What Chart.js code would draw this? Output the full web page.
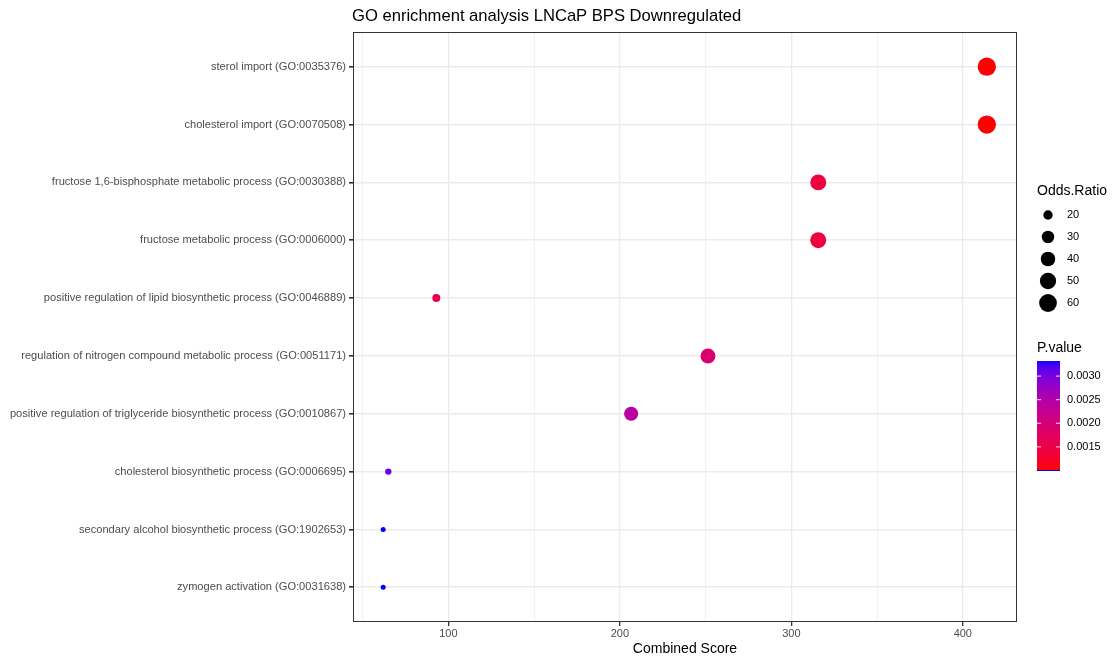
<!DOCTYPE html>
<html>
<head>
<meta charset="utf-8">
<script src="https://cdn.jsdelivr.net/npm/chart.js@4.4.1/dist/chart.umd.min.js"></script>
<style>
  body { margin: 0; background: #fff; }
  canvas { display: block; }
</style>
</head>
<body>
<canvas id="myChart" width="1112" height="659"></canvas>
<script>
// GO terms, top to bottom
var terms = [
  'sterol import (GO:0035376)',
  'cholesterol import (GO:0070508)',
  'fructose 1,6-bisphosphate metabolic process (GO:0030388)',
  'fructose metabolic process (GO:0006000)',
  'positive regulation of lipid biosynthetic process (GO:0046889)',
  'regulation of nitrogen compound metabolic process (GO:0051171)',
  'positive regulation of triglyceride biosynthetic process (GO:0010867)',
  'cholesterol biosynthetic process (GO:0006695)',
  'secondary alcohol biosynthetic process (GO:1902653)',
  'zymogen activation (GO:0031638)'
];
var combinedScore = [414, 414, 315.7, 315.7, 93, 251.4, 206.6, 65, 62, 62];
var oddsRatio = [64, 64, 48, 48, 17, 42, 38, 15, 14.5, 14.5];
var pValue = [0.00101, 0.00101, 0.00143, 0.00143, 0.00159, 0.00189, 0.00240, 0.00304, 0.00332, 0.00332];

var xBreaks = [100, 200, 300, 400];
var sizeBreaks = [20, 30, 40, 50, 60];
var colorBreaks = [0.0015, 0.0020, 0.0025, 0.0030];

var FONT = '"Liberation Sans", Arial, sans-serif';

// ---- size scale (area mapping like ggplot) ----
var orMin = Math.min.apply(null, oddsRatio), orMax = Math.max.apply(null, oddsRatio);
function sizeRadius(v) {
  var t = (v - orMin) / (orMax - orMin);
  return (5 + 13.3 * Math.sqrt(Math.max(t, 0))) / 2;
}

// ---- colour scale: red -> blue, interpolated in Lab ----
function lin(c) { c /= 255; return c <= 0.04045 ? c / 12.92 : Math.pow((c + 0.055) / 1.055, 2.4); }
function gam(c) { c = c <= 0.0031308 ? 12.92 * c : 1.055 * Math.pow(c, 1 / 2.4) - 0.055; return Math.round(Math.min(1, Math.max(0, c)) * 255); }
function toLab(rgb) {
  var r = lin(rgb[0]), g = lin(rgb[1]), b = lin(rgb[2]);
  var X = (0.4124 * r + 0.3576 * g + 0.1805 * b) / 0.95047;
  var Y = (0.2126 * r + 0.7152 * g + 0.0722 * b);
  var Z = (0.0193 * r + 0.1192 * g + 0.9505 * b) / 1.08883;
  function f(t) { return t > 0.008856 ? Math.cbrt(t) : 7.787 * t + 16 / 116; }
  var fx = f(X), fy = f(Y), fz = f(Z);
  return [116 * fy - 16, 500 * (fx - fy), 200 * (fy - fz)];
}
function fromLab(lab) {
  var fy = (lab[0] + 16) / 116, fx = fy + lab[1] / 500, fz = fy - lab[2] / 200;
  function fi(t) { return t > 0.206893 ? t * t * t : (t - 16 / 116) / 7.787; }
  var X = fi(fx) * 0.95047, Y = fi(fy), Z = fi(fz) * 1.08883;
  var r = 3.2406 * X - 1.5372 * Y - 0.4986 * Z;
  var g = -0.9689 * X + 1.8758 * Y + 0.0415 * Z;
  var b = 0.0557 * X - 0.2040 * Y + 1.0570 * Z;
  return 'rgb(' + gam(r) + ',' + gam(g) + ',' + gam(b) + ')';
}
var labLow = toLab([255, 0, 0]), labHigh = toLab([0, 0, 255]);
var pMin = Math.min.apply(null, pValue), pMax = Math.max.apply(null, pValue);
function pColor(p) {
  var t = Math.min(1, Math.max(0, (p - pMin) / (pMax - pMin)));
  return fromLab([0, 1, 2].map(function (k) { return labLow[k] + (labHigh[k] - labLow[k]) * t; }));
}

// ---- title, panel border and legends ----
var extras = {
  id: 'extras',
  afterDraw: function (chart) {
    var ctx = chart.ctx, a = chart.chartArea;
    ctx.save();
    ctx.strokeStyle = '#333333';
    ctx.lineWidth = 1;
    ctx.strokeRect(a.left + 0.5, a.top + 0.5, a.right - a.left - 1, a.bottom - a.top - 1);

    ctx.fillStyle = '#000';
    ctx.textBaseline = 'middle';
    ctx.textAlign = 'left';
    ctx.font = '16.6px ' + FONT;
    ctx.fillText('GO enrichment analysis LNCaP BPS Downregulated', 352, 16);

    // size legend
    ctx.font = '14px ' + FONT;
    ctx.fillText('Odds.Ratio', 1037, 191);
    ctx.font = '11px ' + FONT;
    sizeBreaks.forEach(function (v, i) {
      var y = 215 + 22 * i;
      ctx.beginPath();
      ctx.arc(1048, y, sizeRadius(v), 0, Math.PI * 2);
      ctx.fill();
      ctx.fillText(String(v), 1067, y);
    });

    // colour bar
    ctx.font = '14px ' + FONT;
    ctx.fillText('P.value', 1037, 348);
    var top = 361, bot = 470, x0 = 1037, w = 23;
    for (var y = top; y < bot; y++) {
      var p = pMin + (bot - y - 0.5) / (bot - top) * (pMax - pMin);
      ctx.fillStyle = pColor(p);
      ctx.fillRect(x0, y, w, 1);
    }
    ctx.fillStyle = 'rgb(0,0,255)';
    ctx.fillRect(x0, bot, w, 1);
    ctx.font = '11px ' + FONT;
    colorBreaks.forEach(function (v) {
      var y = bot - (v - pMin) / (pMax - pMin) * (bot - top);
      ctx.strokeStyle = 'rgba(255,255,255,0.9)';
      ctx.beginPath();
      ctx.moveTo(x0, y); ctx.lineTo(x0 + 4, y);
      ctx.moveTo(x0 + w - 4, y); ctx.lineTo(x0 + w, y);
      ctx.stroke();
      ctx.fillStyle = '#000';
      ctx.fillText(v.toFixed(4), 1067, y);
    });
    ctx.restore();
  }
};

var points = terms.map(function (t, i) { return { x: combinedScore[i], y: i }; });

new Chart(document.getElementById('myChart'), {
  type: 'scatter',
  data: {
    datasets: [{
      data: points,
      pointRadius: oddsRatio.map(sizeRadius),
      pointHoverRadius: oddsRatio.map(sizeRadius),
      pointBackgroundColor: pValue.map(pColor),
      pointBorderWidth: 0
    }]
  },
  options: {
    responsive: false,
    animation: false,
    layout: { padding: { top: 32, right: 95, left: 0, bottom: 0 } },
    plugins: { legend: { display: false }, tooltip: { enabled: false } },
    scales: {
      x: {
        type: 'linear',
        min: 44.4,
        max: 431.6,
        afterBuildTicks: function (s) {
          var t = [];
          for (var v = 50; v <= 400; v += 50) t.push({ value: v });
          s.ticks = t;
        },
        afterFit: function (s) { s.height = 37; },
        ticks: {
          autoSkip: false, maxRotation: 0, padding: 1,
          color: '#4d4d4d', font: { family: FONT, size: 11 },
          callback: function (v) { return xBreaks.indexOf(v) >= 0 ? String(v) : ''; }
        },
        grid: {
          color: '#ebebeb',
          lineWidth: function (c) { return xBreaks.indexOf(c.tick && c.tick.value) >= 0 ? 1.3 : 0.7; },
          tickColor: function (c) { return xBreaks.indexOf(c.tick && c.tick.value) >= 0 ? '#333333' : 'rgba(0,0,0,0)'; },
          tickLength: 4
        },
        border: { display: false },
        title: {
          display: true, text: 'Combined Score', color: '#000',
          font: { family: FONT, size: 14 }, padding: { top: 0, bottom: 1 }
        }
      },
      y: {
        type: 'linear',
        reverse: true,
        min: -0.6,
        max: terms.length - 0.4,
        afterBuildTicks: function (s) {
          s.ticks = terms.map(function (t, i) { return { value: i }; });
        },
        afterFit: function (s) { s.width = 353; },
        ticks: {
          autoSkip: false, padding: 3,
          color: '#4d4d4d', font: { family: FONT, size: 11.1 },
          callback: function (v) { return terms[v]; }
        },
        grid: { color: '#ebebeb', lineWidth: 1.6, tickColor: '#333333', tickLength: 4 },
        border: { display: false }
      }
    }
  },
  plugins: [extras]
});
</script>
</body>
</html>
